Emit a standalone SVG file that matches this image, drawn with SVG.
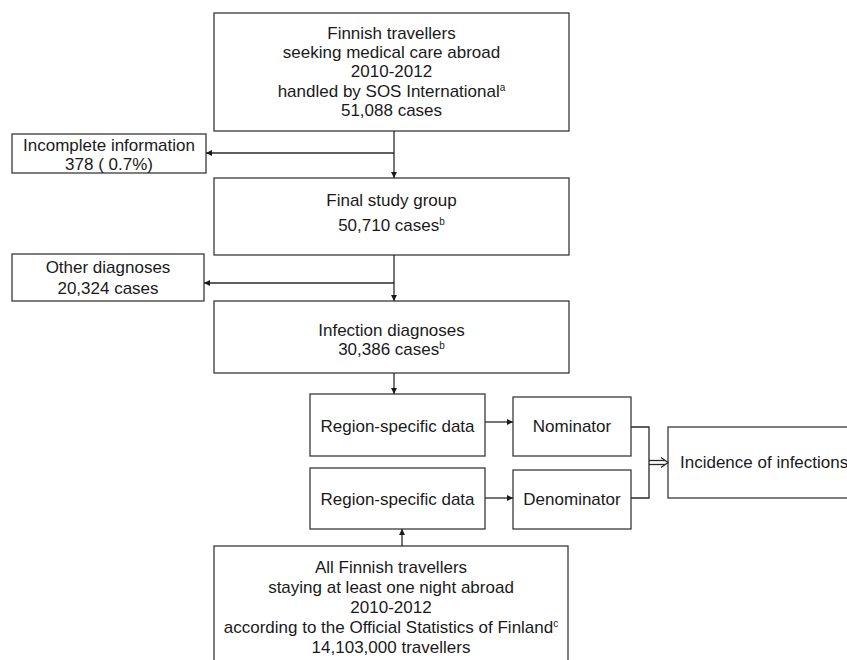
<svg xmlns="http://www.w3.org/2000/svg" width="847" height="660" viewBox="0 0 847 660">
<defs>
<style>
.box{fill:#fff;stroke:#3a3a3a;stroke-width:1.3}
.t{font-family:"Liberation Sans",Arial,sans-serif;font-size:17px;fill:#1a1a1a;text-anchor:middle}
.ts{text-anchor:start}
.sup{font-size:10px}
.ln{fill:none;stroke:#2a2a2a;stroke-width:1.3}
</style>
<marker id="ah" viewBox="0 0 10 10" refX="10" refY="5" markerWidth="6" markerHeight="6" orient="auto" markerUnits="userSpaceOnUse">
<path d="M0,0 L10,5 L0,10 z" fill="#1a1a1a"/>
</marker>
</defs>
<rect width="847" height="660" fill="#fff"/>

<g id="top">
<rect class="box" x="214" y="13" width="355" height="118"/>
<text class="t" x="391.5" y="39">Finnish travellers</text>
<text class="t" x="391.5" y="58">seeking medical care abroad</text>
<text class="t" x="391.5" y="77">2010-2012</text>
<text class="t" x="391.5" y="97">handled by SOS International<tspan class="sup" dy="-6">a</tspan></text>
<text class="t" x="391.5" y="116">51,088 cases</text>
</g>

<g id="incomplete">
<rect class="box" x="12" y="134" width="194" height="39"/>
<text class="t" x="109" y="151">Incomplete information</text>
<text class="t" x="109" y="170">378 ( 0.7%)</text>
</g>

<g id="final">
<rect class="box" x="214" y="178" width="355" height="77"/>
<text class="t" x="391.5" y="206">Final study group</text>
<text class="t" x="391.5" y="231">50,710 cases<tspan class="sup" dy="-6">b</tspan></text>
</g>

<g id="other">
<rect class="box" x="12" y="254" width="192" height="47"/>
<text class="t" x="108" y="273">Other diagnoses</text>
<text class="t" x="108" y="294">20,324 cases</text>
</g>

<g id="infection">
<rect class="box" x="214" y="301" width="355" height="72"/>
<text class="t" x="391.5" y="336">Infection diagnoses</text>
<text class="t" x="391.5" y="355">30,386 cases<tspan class="sup" dy="-6">b</tspan></text>
</g>

<g id="region1">
<rect class="box" x="310" y="394" width="175" height="62"/>
<text class="t" x="397.5" y="432">Region-specific data</text>
</g>

<g id="nominator">
<rect class="box" x="513" y="397" width="118" height="59"/>
<text class="t" x="572" y="432">Nominator</text>
</g>

<g id="region2">
<rect class="box" x="310" y="468" width="175" height="61"/>
<text class="t" x="397.5" y="505">Region-specific data</text>
</g>

<g id="denominator">
<rect class="box" x="513" y="470" width="118" height="59"/>
<text class="t" x="572" y="505">Denominator</text>
</g>

<g id="incidence">
<rect class="box" x="668" y="427" width="200" height="71"/>
<text class="t ts" x="680" y="468">Incidence of infections</text>
</g>

<g id="all">
<rect class="box" x="214" y="546" width="354" height="130"/>
<text class="t" x="391" y="573">All Finnish travellers</text>
<text class="t" x="391" y="593">staying at least one night abroad</text>
<text class="t" x="391" y="613">2010-2012</text>
<text class="t" x="391" y="633">according to the Official Statistics of Finland<tspan class="sup" dy="-6">c</tspan></text>
<text class="t" x="391" y="653">14,103,000 travellers</text>
</g>

<g id="connectors">
<line class="ln" x1="394" y1="131" x2="394" y2="178" marker-end="url(#ah)"/>
<line class="ln" x1="394" y1="153" x2="206" y2="153" marker-end="url(#ah)"/>
<line class="ln" x1="394" y1="255" x2="394" y2="301" marker-end="url(#ah)"/>
<line class="ln" x1="394" y1="283" x2="204" y2="283" marker-end="url(#ah)"/>
<line class="ln" x1="394" y1="373" x2="394" y2="394" marker-end="url(#ah)"/>
<line class="ln" x1="485" y1="422" x2="513" y2="422" marker-end="url(#ah)"/>
<line class="ln" x1="485" y1="498" x2="513" y2="498" marker-end="url(#ah)"/>
<line class="ln" x1="402" y1="546" x2="402" y2="529" marker-end="url(#ah)"/>
<polyline class="ln" points="631,427 649,427 649,498 631,498"/>
<line class="ln" x1="649" y1="460.5" x2="665" y2="460.5"/>
<line class="ln" x1="649" y1="464.5" x2="665" y2="464.5"/>
<polyline class="ln" points="661,457.5 668,462.5 661,467.5"/>
</g>
</svg>
